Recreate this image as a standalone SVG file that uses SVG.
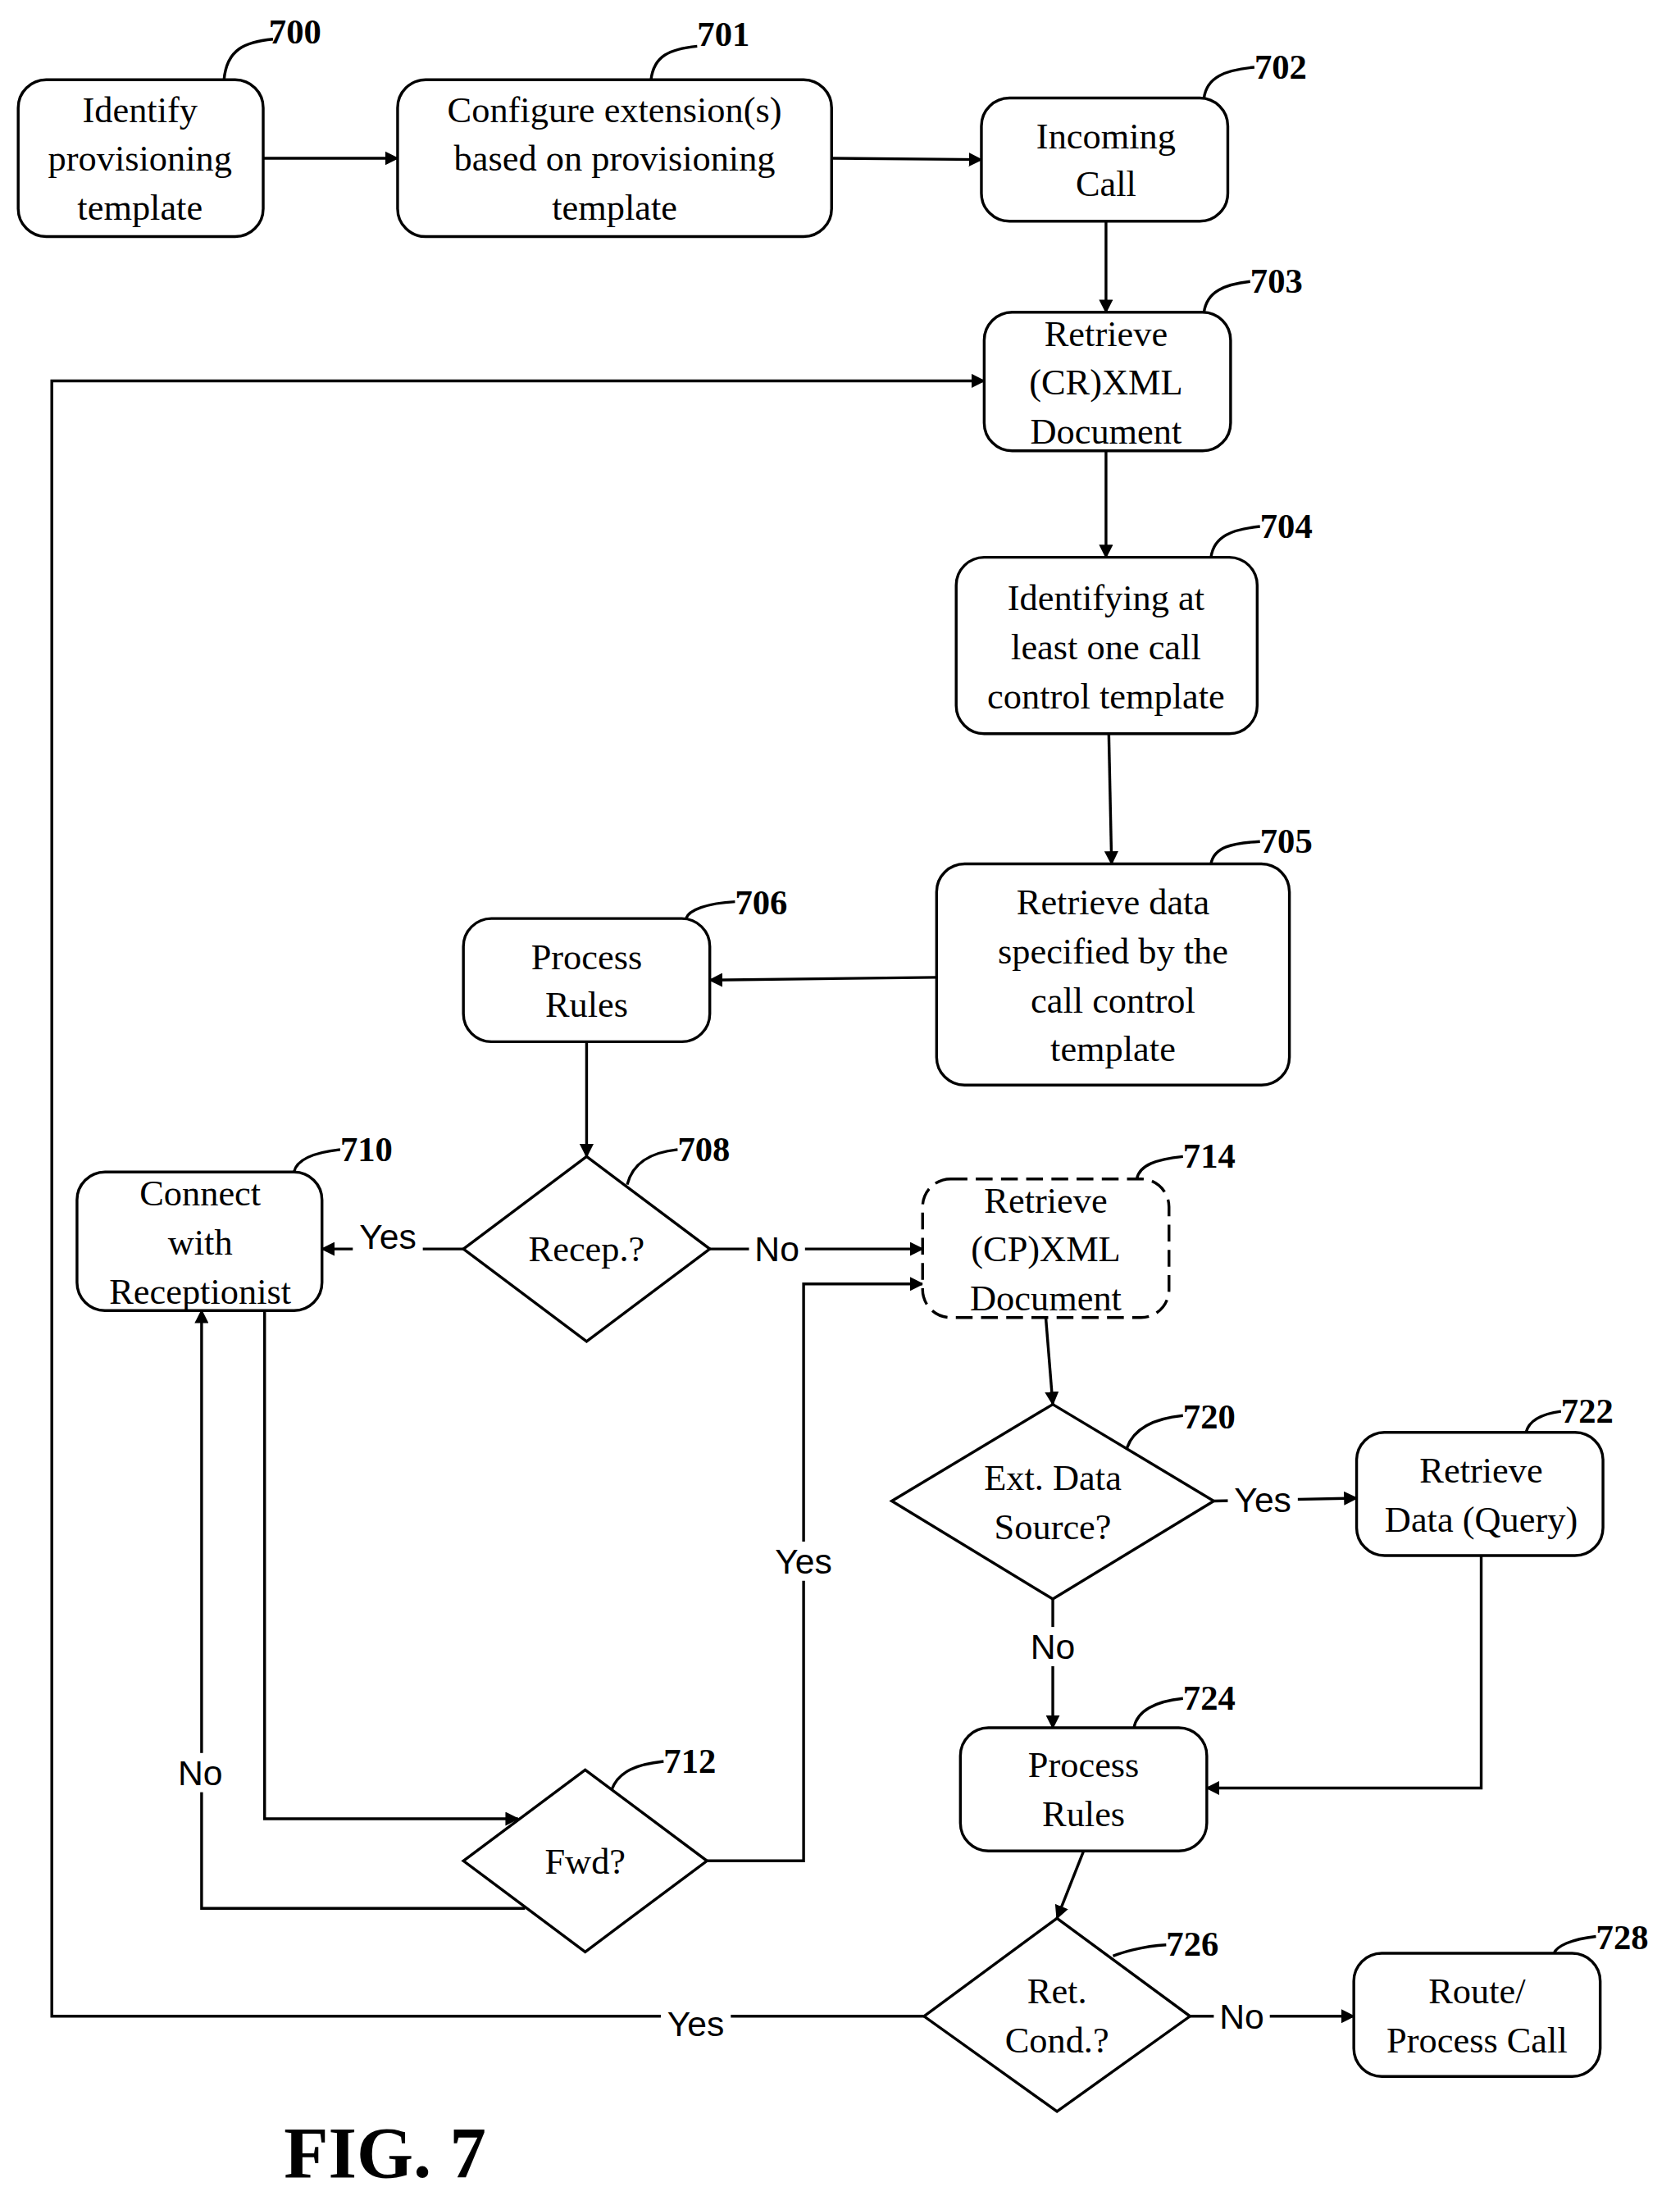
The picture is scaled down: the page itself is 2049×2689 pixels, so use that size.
<svg xmlns="http://www.w3.org/2000/svg" width="2049" height="2689" viewBox="0 0 2049 2689">
<defs>
<marker id="ah" markerWidth="10" markerHeight="10" refX="9" refY="5" orient="auto" markerUnits="userSpaceOnUse"><path d="M0,0 L10,5 L0,10 Z" fill="#000"/></marker>
<style>
.n{fill:#fff;stroke:#000;stroke-width:2}
.t{font-family:"Liberation Serif",serif;font-size:26px;text-anchor:middle;fill:#000}
.r{font-family:"Liberation Serif",serif;font-size:25px;font-weight:bold;fill:#000}
.l{font-family:"Liberation Sans",sans-serif;font-size:25px;text-anchor:middle;fill:#000}
.c{fill:none;stroke:#000;stroke-width:2}
.a{fill:none;stroke:#000;stroke-width:2;marker-end:url(#ah)}
</style>
</defs>
<rect width="2049" height="2689" fill="#fff"/>
<g transform="scale(1.7075)">
<g id="connectors">
<path class="a" d="M188,113 H284"/>
<path class="a" d="M594,113 L701,114"/>
<path class="a" d="M790,158 V223"/>
<path class="a" d="M790,322 V398"/>
<path class="a" d="M792,524 L794,617"/>
<path class="a" d="M669,698 L507,700"/>
<path class="a" d="M419,744 V826"/>
<path class="a" d="M331,892 H230"/>
<path class="a" d="M507,892 H659"/>
<path class="a" d="M747,941 L752,1003"/>
<path class="a" d="M867,1072 L969,1070"/>
<path class="a" d="M752,1142 V1234"/>
<path class="a" d="M1058,1111 V1277 H862"/>
<path class="a" d="M189,936 V1299 H370"/>
<path class="a" d="M375,1363 H144 V936"/>
<path class="a" d="M505,1329 H574 V917 H659"/>
<path class="a" d="M774,1322 L755,1370"/>
<path class="a" d="M850,1440 H967"/>
<path class="a" d="M660,1440 H37 V272 H703"/>
<rect x="252" y="870" width="50" height="28" fill="#fff"/><text class="l" x="277" y="892">Yes</text>
<rect x="535" y="878" width="40" height="28" fill="#fff"/><text class="l" x="555" y="901">No</text>
<rect x="877" y="1057" width="50" height="28" fill="#fff"/><text class="l" x="902" y="1080">Yes</text>
<rect x="732" y="1162" width="40" height="28" fill="#fff"/><text class="l" x="752" y="1185">No</text>
<rect x="124" y="1252" width="40" height="28" fill="#fff"/><text class="l" x="143" y="1275">No</text>
<rect x="549" y="1101" width="50" height="28" fill="#fff"/><text class="l" x="574" y="1124">Yes</text>
<rect x="867" y="1426" width="40" height="28" fill="#fff"/><text class="l" x="887" y="1449">No</text>
<rect x="472" y="1431" width="50" height="28" fill="#fff"/><text class="l" x="497" y="1454">Yes</text>
</g>
<g id="n700"><rect class="n" x="13" y="57" width="175" height="112" rx="20"/><text class="t" x="100" y="87">Identify</text><text class="t" x="100" y="122">provisioning</text><text class="t" x="100" y="157">template</text><path class="c" d="M160,57 C162,35 175,30 195,28"/><text class="r" x="192" y="31">700</text></g>
<g id="n701"><rect class="n" x="284" y="57" width="310" height="112" rx="20"/><text class="t" x="439" y="87">Configure extension(s)</text><text class="t" x="439" y="122">based on provisioning</text><text class="t" x="439" y="157">template</text><path class="c" d="M465,57 C467,40 478,35 498,33"/><text class="r" x="498" y="33">701</text></g>
<g id="n702"><rect class="n" x="701" y="70" width="176" height="88" rx="20"/><text class="t" x="790" y="106">Incoming</text><text class="t" x="790" y="140">Call</text><path class="c" d="M860,70 C862,55 875,50 896,48"/><text class="r" x="896" y="56">702</text></g>
<g id="n703"><rect class="n" x="703" y="223" width="176" height="99" rx="20" stroke-width="3"/><text class="t" x="790" y="247">Retrieve</text><text class="t" x="790" y="282">(CR)XML</text><text class="t" x="790" y="317">Document</text><path class="c" d="M860,223 C862,208 875,203 893,201"/><text class="r" x="893" y="209">703</text></g>
<g id="n704"><rect class="n" x="683" y="398" width="215" height="126" rx="20"/><text class="t" x="790" y="436">Identifying at</text><text class="t" x="790" y="471">least one call</text><text class="t" x="790" y="506">control template</text><path class="c" d="M865,398 C867,383 880,378 900,376"/><text class="r" x="900" y="384">704</text></g>
<g id="n705"><rect class="n" x="669" y="617" width="252" height="158" rx="20"/><text class="t" x="795" y="653">Retrieve data</text><text class="t" x="795" y="688">specified by the</text><text class="t" x="795" y="723">call control</text><text class="t" x="795" y="758">template</text><path class="c" d="M865,617 C867,605 880,602 900,601"/><text class="r" x="900" y="609">705</text></g>
<g id="n706"><rect class="n" x="331" y="656" width="176" height="88" rx="20"/><text class="t" x="419" y="692">Process</text><text class="t" x="419" y="726">Rules</text><path class="c" d="M490,656 C492,650 505,645 525,644"/><text class="r" x="525" y="653">706</text></g>
<g id="n708"><polygon class="n" points="331,892 419,826 507,892 419,958"/><text class="t" x="419" y="901">Recep.?</text><path class="c" d="M448,846 C452,830 465,823 484,821"/><text class="r" x="484" y="829">708</text></g>
<g id="n710"><rect class="n" x="55" y="837" width="175" height="99" rx="20"/><text class="t" x="143" y="861">Connect</text><text class="t" x="143" y="896">with</text><text class="t" x="143" y="931">Receptionist</text><path class="c" d="M210,837 C212,828 225,823 243,821"/><text class="r" x="243" y="829">710</text></g>
<g id="n714"><rect class="n" x="659" y="842" width="176" height="99" rx="20" stroke-dasharray="12,6"/><text class="t" x="747" y="866">Retrieve</text><text class="t" x="747" y="901">(CP)XML</text><text class="t" x="747" y="936">Document</text><path class="c" d="M812,842 C814,832 826,828 845,826"/><text class="r" x="845" y="834">714</text></g>
<g id="n720"><polygon class="n" points="637,1072 752,1003 867,1072 752,1142"/><text class="t" x="752" y="1064">Ext. Data</text><text class="t" x="752" y="1099">Source?</text><path class="c" d="M805,1034 C810,1020 825,1013 845,1011"/><text class="r" x="845" y="1020">720</text></g>
<g id="n722"><rect class="n" x="969" y="1023" width="176" height="88" rx="20"/><text class="t" x="1058" y="1059">Retrieve</text><text class="t" x="1058" y="1094">Data (Query)</text><path class="c" d="M1090,1023 C1092,1015 1100,1010 1115,1008"/><text class="r" x="1115" y="1016">722</text></g>
<g id="n724"><rect class="n" x="686" y="1234" width="176" height="88" rx="20"/><text class="t" x="774" y="1269">Process</text><text class="t" x="774" y="1304">Rules</text><path class="c" d="M810,1234 C812,1222 825,1215 845,1213"/><text class="r" x="845" y="1221">724</text></g>
<g id="n712"><polygon class="n" points="331,1329 418,1264 505,1329 418,1394"/><text class="t" x="418" y="1338">Fwd?</text><path class="c" d="M437,1278 C442,1265 455,1260 474,1258"/><text class="r" x="474" y="1266">712</text></g>
<g id="n726"><polygon class="n" points="660,1440 755,1370 850,1440 755,1508"/><text class="t" x="755" y="1431">Ret.</text><text class="t" x="755" y="1466">Cond.?</text><path class="c" d="M795,1397 C800,1395 815,1390 833,1389"/><text class="r" x="833" y="1397">726</text></g>
<g id="n728"><rect class="n" x="967" y="1395" width="176" height="88" rx="20"/><text class="t" x="1055" y="1431">Route/</text><text class="t" x="1055" y="1466">Process Call</text><path class="c" d="M1110,1395 C1112,1390 1122,1385 1140,1383"/><text class="r" x="1140" y="1392">728</text></g>
<text x="275" y="1555" font-family="Liberation Serif,serif" font-size="52" font-weight="bold" text-anchor="middle">FIG. 7</text>
</g>
</svg>
